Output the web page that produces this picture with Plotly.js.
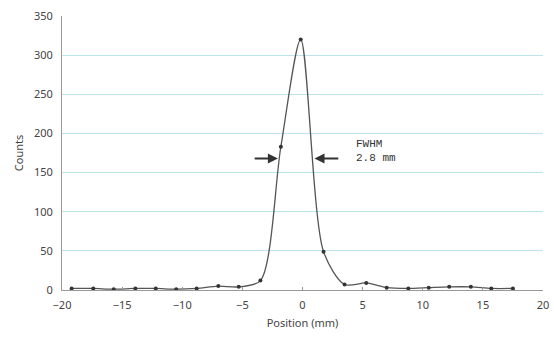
<!DOCTYPE html>
<html>
<head>
<meta charset="utf-8">
<script src="https://cdn.plot.ly/plotly-3.0.1.min.js"></script>
<style>html,body{margin:0;padding:0;background:#fff;}#chart{width:554px;height:338px;}</style>
</head>
<body>
<div id="chart"></div>
<script>
const positions = [-19.2, -17.4, -15.7, -13.9, -12.2, -10.5, -8.8, -7.0, -5.3, -3.5, -1.8, -0.15, 1.75, 3.5, 5.3, 7.0, 8.8, 10.5, 12.2, 14.0, 15.7, 17.5];
const counts    = [2, 2, 1, 2, 2, 1, 2, 5, 4, 12, 183, 320, 49, 7, 9, 3, 2, 3, 4, 4, 2, 2];
const yTicks = [0, 50, 100, 150, 200, 250, 300, 350];
const xTicks = [-20, -15, -10, -5, 0, 5, 10, 15, 20];
const fwhmLabel = "FWHM<br>2.8 mm";

const trace = {
  x: positions, y: counts, type: 'scatter', mode: 'lines+markers',
  line: {color: '#555', width: 1.3, shape: 'spline', smoothing: 0.8},
  marker: {color: '#333', size: 4},
  hoverinfo: 'none'
};

const layout = {
  width: 554, height: 338,
  margin: {l: 62, r: 11, t: 16, b: 48},
  paper_bgcolor: '#fff', plot_bgcolor: '#fff',
  showlegend: false,
  font: {family: 'Noto Sans, sans-serif', size: 11, color: '#444'},
  xaxis: {
    range: [-20, 20], tickvals: xTicks, ticktext: xTicks.map(v => v < 0 ? '\u2212' + Math.abs(v) : String(v)),
    showgrid: false, zeroline: false, showline: true, linecolor: '#999', linewidth: 1,
    ticks: 'inside', ticklen: 3, tickcolor: '#999', ticklabelstandoff: 5,
    title: {text: 'Position (mm)', font: {size: 11, color: '#444'}, standoff: 8},
    tickfont: {size: 11, color: '#444'}
  },
  yaxis: {
    range: [0, 350], tickvals: yTicks,
    showgrid: true, gridcolor: '#bfe3ea', gridwidth: 1,
    zeroline: false, showline: true, linecolor: '#999', linewidth: 1,
    ticks: '', ticklabelstandoff: 6,
    title: {text: 'Counts', font: {size: 11, color: '#444'}, standoff: 8},
    tickfont: {size: 11, color: '#444'}
  },
  annotations: [
    {x: -2.05, y: 168, ax: -4.1, ay: 168, xref: 'x', yref: 'y', axref: 'x', ayref: 'y',
     showarrow: true, arrowhead: 2, arrowsize: 1, arrowwidth: 2, arrowcolor: '#333', text: ''},
    {x: 1.0, y: 168, ax: 3.1, ay: 168, xref: 'x', yref: 'y', axref: 'x', ayref: 'y',
     showarrow: true, arrowhead: 2, arrowsize: 1, arrowwidth: 2, arrowcolor: '#333', text: ''},
    {x: 4.3, y: 178, xref: 'x', yref: 'y', xanchor: 'left', yanchor: 'middle', align: 'left',
     showarrow: false, text: fwhmLabel, font: {family: 'Liberation Mono, monospace', size: 11, color: '#333'}}
  ]
};

Plotly.newPlot('chart', [trace], layout, {displayModeBar: false, staticPlot: true});
</script>
</body>
</html>
